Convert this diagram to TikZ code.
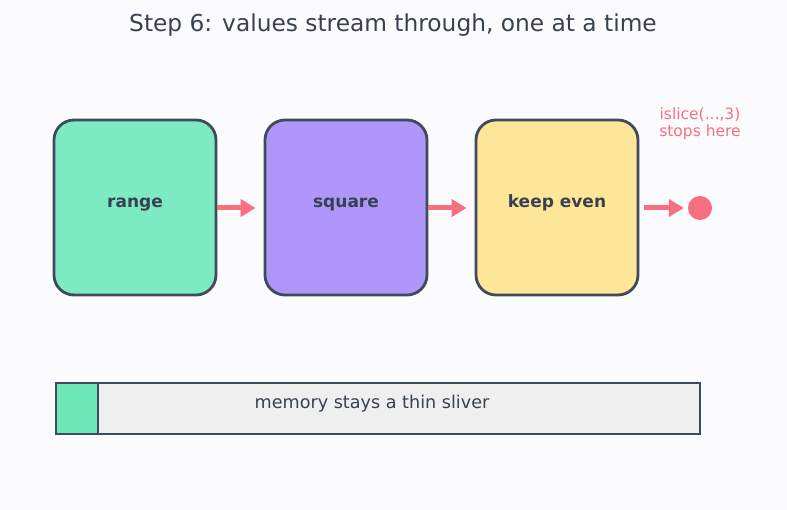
\documentclass[tikz,border=0pt]{standalone}
\usepackage{fontspec}
\setmainfont{DejaVu Sans}
\usetikzlibrary{arrows.meta,positioning}
\definecolor{bgcol}{HTML}{FBFBFE}
\definecolor{ink}{HTML}{374151}
\definecolor{edge}{HTML}{3F4A5A}
\definecolor{mint}{HTML}{7DEBC2}
\definecolor{lilac}{HTML}{AE96FA}
\definecolor{butter}{HTML}{FDE698}
\definecolor{coral}{HTML}{F7707F}
\definecolor{barfill}{HTML}{EFEFEF}
\definecolor{barmint}{HTML}{6EE8B8}
\begin{document}
\begin{tikzpicture}[
    x=1pt, y=-1pt,
    stage/.style={rectangle, draw=edge, line width=2.8pt, rounded corners=20pt, minimum width=162pt, minimum height=175pt, text height=6pt, text depth=5pt, text=ink, font=\fontsize{17}{20}\selectfont\bfseries},
    flow/.style={draw=coral, line width=5pt, -{Triangle[length=15pt,width=17pt]}}
]
    \useasboundingbox[fill=bgcol] (0,0) rectangle (787,510);
    \node [text=ink, font=\fontsize{23.3}{27}\selectfont] (title) at (393,25) {Step 6: values stream through, one at a time};

    \node [stage, fill=mint] (range) at (135,207.5) {range};
    \node [stage, fill=lilac] (square) at (346,207.5) {square};
    \node [stage, fill=butter] (keep) at (557,207.5) {keep even};
    \node [circle, fill=coral, minimum size=24pt, inner sep=0pt] (stop) at (700,208) {};
    \node [text=coral, align=center, font=\fontsize{15.5}{17}\selectfont] (islice) at (700,124) {islice(...,3)\\stops here};

    \draw [flow, shorten >=8pt] (range.east |- 0,208) -- (square.west |- 0,208);
    \draw [flow, shorten >=8pt] (square.east |- 0,208) -- (keep.west |- 0,208);
    \draw [flow, shorten <=5pt, shorten >=4pt] (keep.east |- 0,208) -- (stop);

    % memory gauge
    \node [draw=edge, line width=1.5pt, fill=barfill, minimum width=644pt, minimum height=51pt, inner sep=0pt] (bar) at (378,408.5) {};
    \node [draw=edge, line width=1.5pt, fill=barmint, minimum width=42pt, minimum height=51pt, inner sep=0pt, anchor=west] (used) at (bar.west) {};
    \node [text=ink, font=\fontsize{17.6}{20}\selectfont] (memo) at (372,403.5) {memory stays a thin sliver};
\end{tikzpicture}
\end{document}
